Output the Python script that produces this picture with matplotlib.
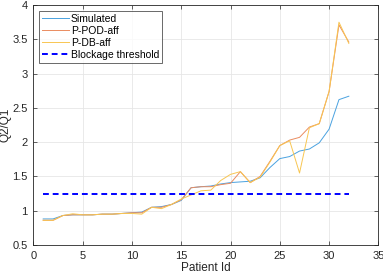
import matplotlib
matplotlib.use("Agg")
import matplotlib.pyplot as plt

plt.rcParams['font.family'] = ['Liberation Sans', 'DejaVu Sans']

# Donnees
patient_id = list(range(1, 33))
simulated = [0.88, 0.88, 0.93, 0.94, 0.94, 0.94, 0.95, 0.95, 0.96, 0.97, 0.98, 1.05,
             1.06, 1.09, 1.15, 1.335, 1.35, 1.36, 1.39, 1.41, 1.42, 1.43, 1.48, 1.63,
             1.76, 1.79, 1.87, 1.90, 1.99, 2.19, 2.62, 2.67]
p_pod_aff = [0.86, 0.86, 0.93, 0.94, 0.94, 0.94, 0.95, 0.95, 0.96, 0.97, 0.97, 1.05,
             1.05, 1.09, 1.16, 1.335, 1.35, 1.35, 1.38, 1.40, 1.57, 1.41, 1.50, 1.72,
             1.95, 2.03, 2.07, 2.22, 2.27, 2.74, 3.71, 3.46]
p_db_aff = [0.86, 0.86, 0.93, 0.955, 0.94, 0.94, 0.95, 0.95, 0.96, 0.96, 0.95, 1.05,
            1.03, 1.09, 1.17, 1.23, 1.29, 1.30, 1.44, 1.53, 1.57, 1.41, 1.49, 1.71,
            1.95, 2.02, 1.55, 2.21, 2.27, 2.74, 3.75, 3.44]
threshold = 1.25

fig = plt.figure(figsize=(3.83, 2.73), dpi=100)
ax = fig.add_axes([0.087, 0.1026, 0.901, 0.879])

ax.plot(patient_id, simulated, color='#4aa2e0', lw=0.7, label='Simulated')
ax.plot(patient_id, p_pod_aff, color='#ea8c60', lw=0.7, label='P-POD-aff')
ax.plot(patient_id, p_db_aff, color='#f8c652', lw=0.7, label='P-DB-aff')
ax.plot([patient_id[0], patient_id[-1]], [threshold, threshold], color='#0000ff',
        lw=1.4, ls=(0, (3, 2)), label='Blockage threshold')

ax.set_xlim(0, 35)
ax.set_ylim(0.5, 4)
ax.set_xticks(range(0, 36, 5))
ax.set_yticks([0.5, 1, 1.5, 2, 2.5, 3, 3.5, 4])
ax.set_yticklabels(['0.5', '1', '1.5', '2', '2.5', '3', '3.5', '4'])
ax.tick_params(labelsize=8, colors='#262626', direction='in', length=3, width=0.5,
               pad=4)
ax.grid(True, color='#e6e6e6', lw=0.6)
ax.set_axisbelow(True)
for s in ax.spines.values():
    s.set_color('#262626')
    s.set_linewidth(0.6)
ax.tick_params(top=True, right=True)

ax.set_xlabel('Patient Id', fontsize=8.5, color='#262626', labelpad=1)
ax.set_ylabel('Q2/Q1', fontsize=8.5, color='#262626', labelpad=1)

leg = ax.legend(loc='upper left', fontsize=7.5, frameon=True, fancybox=False,
                handlelength=2.6, handletextpad=0.15, borderpad=0.3,
                labelspacing=0.2, borderaxespad=0.55)
leg.get_frame().set_edgecolor('#262626')
leg.get_frame().set_linewidth(0.6)

fig.savefig('out.png', dpi=100)
